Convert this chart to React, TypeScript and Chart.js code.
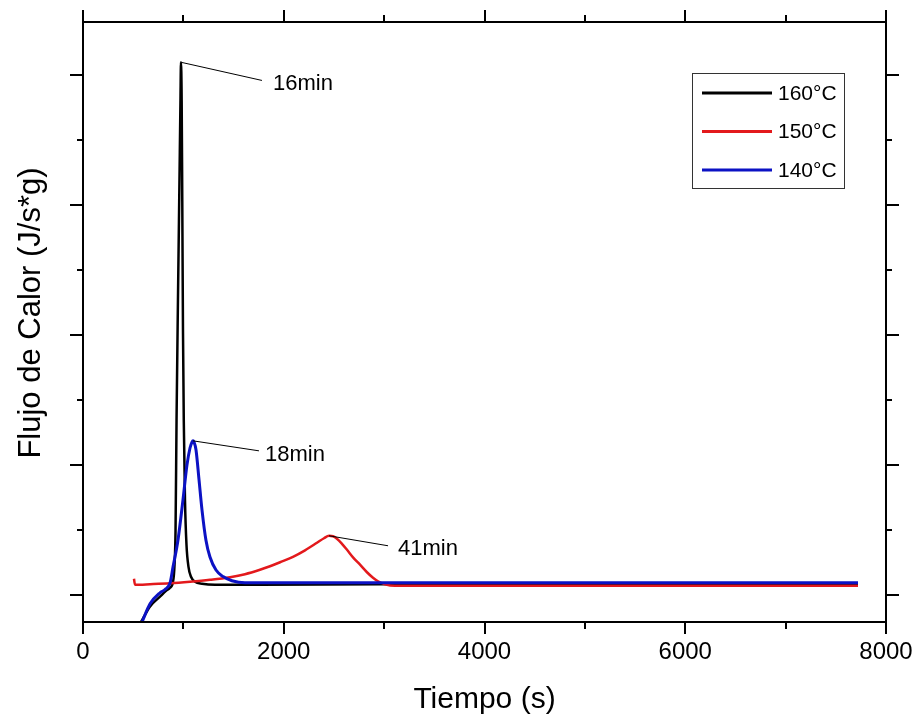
import { useEffect, useRef } from 'react';
import { Chart, registerables } from 'chart.js';

Chart.register(...registerables);

const FONT = "'Liberation Sans', Arial, sans-serif";

// 160°C
const time160 = [578, 668, 767, 827, 867, 897, 912, 922, 932, 946, 961, 971, 976, 983, 989, 996, 1004, 1016, 1031, 1051, 1076, 1116, 1186, 1315, 1763, 4154, 7721];
const flow160 = [-0.21, -0.09, -0.015, 0.03, 0.054, 0.1, 0.231, 0.5, 1.346, 2.269, 3.192, 3.808, 4.1, 3.808, 3.038, 2.038, 1.346, 0.731, 0.385, 0.215, 0.138, 0.1, 0.085, 0.077, 0.077, 0.085, 0.085];

// 150°C
const time150 = [508, 518, 668, 867, 1066, 1265, 1465, 1614, 1763, 1863, 1963, 2092, 2212, 2331, 2401, 2451, 2491, 2530, 2580, 2630, 2690, 2760, 2829, 2889, 2939, 3009, 3108, 7721];
const flow150 = [0.123, 0.077, 0.081, 0.088, 0.1, 0.115, 0.135, 0.158, 0.192, 0.219, 0.25, 0.292, 0.342, 0.4, 0.435, 0.454, 0.45, 0.431, 0.392, 0.346, 0.288, 0.231, 0.173, 0.131, 0.104, 0.081, 0.069, 0.069];

// 140°C
const time140 = [588, 668, 767, 817, 867, 897, 946, 996, 1036, 1066, 1086, 1096, 1106, 1126, 1156, 1186, 1225, 1265, 1325, 1395, 1484, 1614, 1963, 7721];
const flow140 = [-0.21, -0.07, 0.015, 0.04, 0.09, 0.215, 0.42, 0.73, 1.0, 1.13, 1.175, 1.185, 1.175, 1.115, 0.885, 0.65, 0.42, 0.29, 0.19, 0.14, 0.108, 0.092, 0.092, 0.092];

const seriesLabels = ['160°C', '150°C', '140°C'];
const seriesColors = ['#000000', '#e3191c', '#0c12c4'];

const xTickLabels = [0, 2000, 4000, 6000, 8000];
const xMinorTicks = [1000, 3000, 5000, 7000];
const yMajorTicks = [0, 1, 2, 3, 4];
const yMinorTicks = [0.5, 1.5, 2.5, 3.5];

const xTitle = 'Tiempo (s)';
const yTitle = 'Flujo de Calor (J/s*g)';

// annotations: series index, text, line end (data units), text start (data units)
const annotTexts = ['16min', '18min', '41min'];
const annotSeries = [0, 2, 1];
const annotLineEndX = [1783, 1753, 3039];
const annotLineEndY = [3.96, 1.108, 0.377];
const annotTextX = [1893, 1813, 3138];
const annotTextY = [3.93, 1.077, 0.354];

const toPoints = (t: number[], f: number[]) => t.map((v, i) => ({ x: v, y: f[i] }));

export default function App() {
  const ref = useRef<HTMLCanvasElement>(null);

  useEffect(() => {
    const allData = [toPoints(time160, flow160), toPoints(time150, flow150), toPoints(time140, flow140)];

    const framePlugin = {
      id: 'frame',
      afterDraw(chart: any) {
        const { ctx, chartArea } = chart;
        const { left, right, top, bottom } = chartArea;
        const xs = chart.scales.x;
        const ys = chart.scales.y;
        ctx.save();
        ctx.strokeStyle = '#000';
        ctx.lineWidth = 2;
        ctx.lineCap = 'butt';
        ctx.strokeRect(left, top, right - left, bottom - top);
        const seg = (x1: number, y1: number, x2: number, y2: number) => {
          ctx.beginPath();
          ctx.moveTo(x1, y1);
          ctx.lineTo(x2, y2);
          ctx.stroke();
        };
        const xt = (v: number, len: number) => {
          const p = Math.round(xs.getPixelForValue(v));
          seg(p, bottom, p, bottom + len);
          seg(p, top, p, top - len);
        };
        const yt = (v: number, len: number) => {
          const p = Math.round(ys.getPixelForValue(v));
          seg(left, p, left - len, p);
          seg(right, p, right + len, p);
        };
        xTickLabels.forEach((v) => xt(v, 12));
        xMinorTicks.forEach((v) => xt(v, 7));
        yMajorTicks.forEach((v) => yt(v, 13));
        yMinorTicks.forEach((v) => yt(v, 6));

        // y-axis title
        ctx.fillStyle = '#000';
        ctx.font = `31px ${FONT}`;
        ctx.textAlign = 'center';
        ctx.textBaseline = 'middle';
        ctx.translate(left - 52, (top + bottom) / 2 - 9);
        ctx.rotate(-Math.PI / 2);
        ctx.fillText(yTitle, 0, 0);
        ctx.restore();
      },
    };

    const annotPlugin = {
      id: 'annot',
      afterDatasetsDraw(chart: any) {
        const { ctx } = chart;
        const xs = chart.scales.x;
        const ys = chart.scales.y;
        ctx.save();
        ctx.strokeStyle = '#000';
        ctx.lineWidth = 1;
        ctx.fillStyle = '#000';
        ctx.font = `22px ${FONT}`;
        ctx.textBaseline = 'middle';
        ctx.textAlign = 'left';
        annotTexts.forEach((txt, i) => {
          const pts = allData[annotSeries[i]];
          let peak = pts[0];
          pts.forEach((p) => { if (p.y > peak.y) peak = p; });
          ctx.beginPath();
          ctx.moveTo(xs.getPixelForValue(peak.x), ys.getPixelForValue(peak.y));
          ctx.lineTo(xs.getPixelForValue(annotLineEndX[i]), ys.getPixelForValue(annotLineEndY[i]));
          ctx.stroke();
          ctx.fillText(txt, xs.getPixelForValue(annotTextX[i]), ys.getPixelForValue(annotTextY[i]));
        });
        ctx.restore();
      },
    };

    const legendPlugin = {
      id: 'boxLegend',
      afterDraw(chart: any) {
        const { ctx, chartArea } = chart;
        const x0 = chartArea.right - 194;
        const y0 = chartArea.top + 51;
        const w = 152;
        const h = 115;
        ctx.save();
        ctx.fillStyle = '#fff';
        ctx.fillRect(x0, y0, w, h);
        ctx.strokeStyle = '#333';
        ctx.lineWidth = 1;
        ctx.strokeRect(x0 + 0.5, y0 + 0.5, w, h);
        ctx.font = `21px ${FONT}`;
        ctx.textBaseline = 'middle';
        ctx.textAlign = 'left';
        seriesLabels.forEach((lab, i) => {
          const yy = y0 + 20 + 38.5 * i;
          ctx.strokeStyle = seriesColors[i];
          ctx.lineWidth = 3;
          ctx.beginPath();
          ctx.moveTo(x0 + 10, yy);
          ctx.lineTo(x0 + 80, yy);
          ctx.stroke();
          ctx.fillStyle = '#000';
          ctx.fillText(lab, x0 + 86, yy + 1);
        });
        ctx.restore();
      },
    };

    const chart = new Chart(ref.current!, {
      type: 'line',
      data: {
        datasets: allData.map((d, i) => ({
          label: seriesLabels[i],
          data: d,
          borderColor: seriesColors[i],
          backgroundColor: seriesColors[i],
          borderWidth: i === 2 ? 3 : 2.5,
          pointRadius: 0,
          fill: false,
          cubicInterpolationMode: 'monotone' as const,
          order: [3, 2, 1][i],
        })),
      },
      options: {
        responsive: false,
        devicePixelRatio: 1,
        animation: false,
        layout: { padding: { top: 22, right: 32, left: 0, bottom: 0 } },
        plugins: { legend: { display: false }, tooltip: { enabled: false } },
        scales: {
          x: {
            type: 'linear',
            position: 'bottom',
            min: 0,
            max: 8000,
            afterFit: (s: any) => { s.height = 97; s.paddingRight = 0; s.paddingLeft = 0; },
            ticks: { stepSize: 2000, font: { size: 24, family: FONT }, color: '#000', padding: 16, maxRotation: 0, autoSkip: false, callback: (v: any) => String(v) },
            grid: { display: false, drawTicks: false },
            border: { display: false },
            title: { display: true, text: xTitle, font: { size: 30, family: FONT }, color: '#000', padding: { top: 0, bottom: 1 } },
          },
          y: {
            type: 'linear',
            min: -0.21,
            max: 4.41,
            afterFit: (s: any) => { s.width = 83; s.paddingTop = 0; s.paddingBottom = 0; },
            ticks: { display: false },
            grid: { display: false, drawTicks: false },
            border: { display: false },
            title: { display: false },
          },
        },
      },
      plugins: [framePlugin, annotPlugin, legendPlugin],
    });
    return () => chart.destroy();
  }, []);

  return (
    <div style={{ position: 'fixed', left: 0, top: 0, width: 918, height: 719, background: '#fff' }}>
      <canvas ref={ref} width={918} height={719} style={{ width: 918, height: 719, display: 'block' }} />
    </div>
  );
}
